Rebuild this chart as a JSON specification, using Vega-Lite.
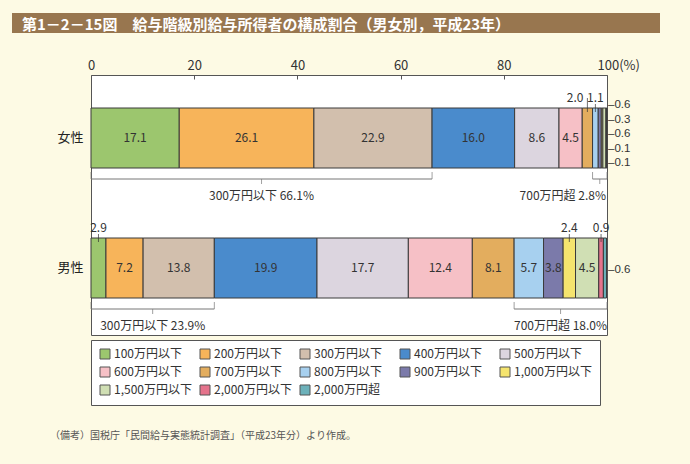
{
  "$schema": "https://vega.github.io/schema/vega-lite/v6.json",
  "background": "#fdfae4",
  "padding": {"left": 12, "top": 13, "right": 40, "bottom": 30},
  "bounds": "flush",
  "spacing": 42,
  "config": {
    "font": "Noto Sans CJK JP",
    "view": {"stroke": null}
  },
  "datasets": {
    "bars": [
      {"sex": "女性", "k": 1, "cat": "100万円以下", "value": 17.1},
      {"sex": "女性", "k": 2, "cat": "200万円以下", "value": 26.1},
      {"sex": "女性", "k": 3, "cat": "300万円以下", "value": 22.9},
      {"sex": "女性", "k": 4, "cat": "400万円以下", "value": 16.0},
      {"sex": "女性", "k": 5, "cat": "500万円以下", "value": 8.6},
      {"sex": "女性", "k": 6, "cat": "600万円以下", "value": 4.5},
      {"sex": "女性", "k": 7, "cat": "700万円以下", "value": 2.0},
      {"sex": "女性", "k": 8, "cat": "800万円以下", "value": 1.1},
      {"sex": "女性", "k": 9, "cat": "900万円以下", "value": 0.6},
      {"sex": "女性", "k": 10, "cat": "1,000万円以下", "value": 0.3},
      {"sex": "女性", "k": 11, "cat": "1,500万円以下", "value": 0.6},
      {"sex": "女性", "k": 12, "cat": "2,000万円以下", "value": 0.1},
      {"sex": "女性", "k": 13, "cat": "2,000万円超", "value": 0.1},
      {"sex": "男性", "k": 1, "cat": "100万円以下", "value": 2.9},
      {"sex": "男性", "k": 2, "cat": "200万円以下", "value": 7.2},
      {"sex": "男性", "k": 3, "cat": "300万円以下", "value": 13.8},
      {"sex": "男性", "k": 4, "cat": "400万円以下", "value": 19.9},
      {"sex": "男性", "k": 5, "cat": "500万円以下", "value": 17.7},
      {"sex": "男性", "k": 6, "cat": "600万円以下", "value": 12.4},
      {"sex": "男性", "k": 7, "cat": "700万円以下", "value": 8.1},
      {"sex": "男性", "k": 8, "cat": "800万円以下", "value": 5.7},
      {"sex": "男性", "k": 9, "cat": "900万円以下", "value": 3.8},
      {"sex": "男性", "k": 10, "cat": "1,000万円以下", "value": 2.4},
      {"sex": "男性", "k": 11, "cat": "1,500万円以下", "value": 4.5},
      {"sex": "男性", "k": 12, "cat": "2,000万円以下", "value": 0.9},
      {"sex": "男性", "k": 13, "cat": "2,000万円超", "value": 0.6}
    ],
    "brackets": [
      {"sex": "女性", "from": 0, "to": 66.1, "label": "300万円以下 66.1%"},
      {"sex": "女性", "from": 97.2, "to": 100, "label": "700万円超 2.8%"},
      {"sex": "男性", "from": 0, "to": 23.9, "label": "300万円以下 23.9%"},
      {"sex": "男性", "from": 82.0, "to": 100, "label": "700万円超 18.0%"}
    ]
  },
  "vconcat": [
    {
      "width": 648,
      "height": 20,
      "view": {"fill": "#98764f", "stroke": null},
      "title": {
        "text": "第1－2－15図　給与階級別給与所得者の構成割合（男女別，平成23年）",
        "orient": "top",
        "anchor": "start",
        "baseline": "middle",
        "offset": -27,
        "dx": 10,
        "color": "#ffffff",
        "fontSize": 15,
        "fontWeight": "bold",
        "font": "Noto Sans CJK JP"
      },
      "data": {"values": []},
      "mark": "point",
      "encoding": {}
    },
    {
      "bounds": "flush",
      "spacing": 10,
      "hconcat": [
        {
          "width": 69,
          "height": 1,
          "view": {"stroke": null, "fill": null},
          "data": {"values": []},
          "mark": "point",
          "encoding": {}
        },
        {
          "width": 516,
          "height": 260,
          "view": {"fill": "#ffffff", "stroke": "#555555", "strokeWidth": 1},
          "title": {
            "text": "（備考）国税庁「民間給与実態統計調査」（平成23年分）より作成。",
            "orient": "bottom",
            "anchor": "start",
            "frame": "group",
            "baseline": "top",
            "offset": 96,
            "dx": -41,
            "fontSize": 10,
            "fontWeight": "normal",
            "color": "#555555",
            "font": "Noto Sans CJK JP"
          },
          "encoding": {
            "y": {
              "field": "sex",
              "type": "nominal",
              "title": null,
              "scale": {"domain": ["女性", "男性"], "range": [-2, 258], "paddingInner": 0, "paddingOuter": 0},
              "axis": {"title": null, "domain": false, "ticks": false, "labelFontSize": 13, "labelColor": "#222222", "labelPadding": 8, "labelAngle": 0}
            }
          },
          "layer": [
            {
              "data": {"name": "bars"},
              "mark": {"type": "bar", "height": 60, "stroke": "#3a3a3a", "strokeWidth": 1},
              "encoding": {
                "x": {
                  "field": "value",
                  "type": "quantitative",
                  "stack": "zero",
                  "title": null,
                  "scale": {"domain": [0, 100], "nice": false},
                  "axis": {
                    "orient": "top",
                    "title": null,
                    "values": [0, 20, 40, 60, 80, 100],
                    "grid": false,
                    "domain": false,
                    "ticks": true,
                    "tickSize": -4,
                    "tickColor": "#555555",
                    "labelPadding": 7,
                    "labelFlush": false,
                    "labelFontSize": 13,
                    "labelColor": "#333333",
                    "labelExpr": "datum.value == 100 ? '100(%)' : datum.label",
                    "labelAlign": {"condition": {"test": "datum.value == 100", "value": "left"}, "value": "center"},
                    "labelOffset": {"condition": {"test": "datum.value == 100", "value": -10}, "value": 0}
                  }
                },
                "order": {"field": "k", "type": "quantitative"},
                "color": {
                  "field": "cat",
                  "type": "nominal",
                  "scale": {
                    "domain": ["100万円以下", "200万円以下", "300万円以下", "400万円以下", "500万円以下", "600万円以下", "700万円以下", "800万円以下", "900万円以下", "1,000万円以下", "1,500万円以下", "2,000万円以下", "2,000万円超"],
                    "range": ["#9cc66e", "#f7b45a", "#d2bfad", "#4a8bcc", "#dcd5df", "#f6c0c6", "#e3ad5e", "#a7d0ef", "#7b7aaa", "#f5e46e", "#d0dfb4", "#e5738c", "#6cb1ba"]
                  },
                  "legend": {
                    "title": null,
                    "orient": "none",
                    "direction": "horizontal",
                    "legendX": 79,
                    "legendY": 327,
                    "columns": 5,
                    "symbolType": "square",
                    "symbolSize": 100,
                    "symbolStrokeColor": "#555555",
                    "symbolStrokeWidth": 1,
                    "labelFontSize": 12,
                    "labelColor": "#333333",
                    "labelLimit": 200,
                    "labelOffset": 3,
                    "fillColor": "#ffffff",
                    "strokeColor": "#555555",
                    "padding": 8,
                    "rowPadding": 4,
                    "columnPadding": 6,
                    "gridAlign": "all"
                  }
                }
              }
            },
            {
              "data": {"name": "bars"},
              "transform": [
                {"stack": "value", "groupby": ["sex"], "sort": [{"field": "k", "order": "ascending"}], "as": ["x0", "x1"]},
                {"filter": "datum.value >= 3"},
                {"fold": ["x0", "x1"], "as": ["edge", "pos"]},
                {"aggregate": [{"op": "mean", "field": "pos", "as": "mid"}], "groupby": ["sex", "cat", "value"]}
              ],
              "mark": {"type": "text", "fontSize": 12, "color": "#333333"},
              "encoding": {
                "x": {"field": "mid", "type": "quantitative", "title": null},
                "text": {"field": "value", "type": "quantitative", "format": ".1f"}
              }
            },
            {
              "data": {"name": "bars"},
              "transform": [
                {"stack": "value", "groupby": ["sex"], "sort": [{"field": "k", "order": "ascending"}], "as": ["x0", "x1"]},
                {"filter": "datum.value >= 0.8 && datum.value < 3"},
                {"fold": ["x0", "x1"], "as": ["edge", "pos"]},
                {"aggregate": [{"op": "mean", "field": "pos", "as": "mid"}], "groupby": ["sex", "cat", "value"]}
              ],
              "mark": {
                "type": "text",
                "fontSize": 12,
                "color": "#333333",
                "dy": -40,
                "align": {"expr": "datum.cat == '700万円以下' ? 'right' : 'center'"},
                "dx": {"expr": "datum.cat == '700万円以下' ? -4 : 0"}
              },
              "encoding": {
                "x": {"field": "mid", "type": "quantitative", "title": null},
                "text": {"field": "value", "type": "quantitative", "format": ".1f"}
              }
            },
            {
              "data": {"name": "bars"},
              "transform": [
                {"stack": "value", "groupby": ["sex"], "sort": [{"field": "k", "order": "ascending"}], "as": ["x0", "x1"]},
                {"filter": "datum.value >= 0.8 && datum.value < 3"},
                {"fold": ["x0", "x1"], "as": ["edge", "pos"]},
                {"aggregate": [{"op": "mean", "field": "pos", "as": "mid"}], "groupby": ["sex", "cat", "value"]}
              ],
              "mark": {
                "type": "tick",
                "orient": "vertical",
                "thickness": 1,
                "color": "#333333",
                "size": {"expr": "datum.cat == '700万円以下' ? 14 : 8"},
                "yOffset": {"expr": "datum.cat == '700万円以下' ? -33 : -30"}
              },
              "encoding": {
                "x": {"field": "mid", "type": "quantitative", "title": null}
              }
            },
            {
              "data": {"name": "bars"},
              "transform": [{"filter": "datum.value < 0.8 && datum.sex == '女性'"}],
              "mark": {
                "type": "text",
                "align": "left",
                "dx": 1,
                "fontSize": 11.5,
                "font": "Liberation Sans",
                "color": "#333333",
                "text": {"expr": "'–' + format(datum.value, '.1f')"}
              },
              "encoding": {
                "x": {"datum": 100, "type": "quantitative"},
                "yOffset": {
                  "field": "cat",
                  "type": "nominal",
                  "scale": {"domain": ["900万円以下", "1,000万円以下", "1,500万円以下", "2,000万円以下", "2,000万円超"], "range": [32, 90], "paddingInner": 0, "paddingOuter": 0}
                }
              }
            },
            {
              "data": {"name": "bars"},
              "transform": [{"filter": "datum.value < 0.8 && datum.sex == '男性'"}],
              "mark": {
                "type": "text",
                "align": "left",
                "dx": 1,
                "dy": 2,
                "fontSize": 11.5,
                "font": "Liberation Sans",
                "color": "#333333",
                "text": {"expr": "'–' + format(datum.value, '.1f')"}
              },
              "encoding": {
                "x": {"datum": 100, "type": "quantitative"}
              }
            },
            {
              "data": {"name": "brackets"},
              "mark": {"type": "rule", "color": "#777777", "strokeWidth": 1, "yOffset": 41},
              "encoding": {
                "x": {"field": "from", "type": "quantitative", "title": null},
                "x2": {"field": "to"}
              }
            },
            {
              "data": {"name": "brackets"},
              "transform": [{"fold": ["from", "to"], "as": ["edge", "pos"]}],
              "mark": {"type": "tick", "orient": "vertical", "thickness": 1, "color": "#777777", "size": 7, "yOffset": 37.5},
              "encoding": {
                "x": {"field": "pos", "type": "quantitative", "title": null}
              }
            },
            {
              "data": {"name": "brackets"},
              "transform": [
                {"fold": ["from", "to"], "as": ["edge", "pos"]},
                {"aggregate": [{"op": "mean", "field": "pos", "as": "mid"}], "groupby": ["sex", "label", "to"]}
              ],
              "mark": {"type": "tick", "orient": "vertical", "thickness": 1, "color": "#777777", "size": 5, "yOffset": 43.5},
              "encoding": {
                "x": {"field": "mid", "type": "quantitative", "title": null}
              }
            },
            {
              "data": {"name": "brackets"},
              "transform": [
                {"fold": ["from", "to"], "as": ["edge", "pos"]},
                {"aggregate": [{"op": "mean", "field": "pos", "as": "mid"}], "groupby": ["sex", "label", "to"]},
                {"filter": "!(datum.sex == '女性' && datum.to == 100)"}
              ],
              "mark": {"type": "text", "fontSize": 12, "color": "#333333", "dy": 58},
              "encoding": {
                "x": {"field": "mid", "type": "quantitative", "title": null},
                "text": {"field": "label", "type": "nominal"}
              }
            },
            {
              "data": {"name": "brackets"},
              "transform": [{"filter": "datum.sex == '女性' && datum.to == 100"}],
              "mark": {"type": "text", "fontSize": 12, "color": "#333333", "dy": 58, "align": "right", "dx": -1},
              "encoding": {
                "x": {"field": "to", "type": "quantitative", "title": null},
                "text": {"field": "label", "type": "nominal"}
              }
            }
          ]
        }
      ]
    }
  ]
}
